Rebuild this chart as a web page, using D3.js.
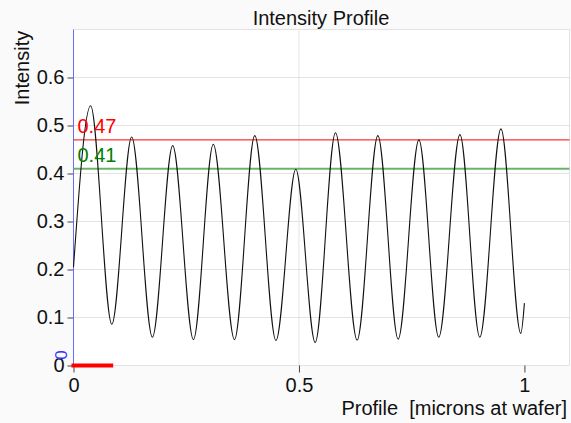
<!DOCTYPE html>
<html>
<head>
<meta charset="utf-8">
<script src="https://cdn.jsdelivr.net/npm/d3@7"></script>
<style>
  body { margin: 0; background: #fafafa; }
  text { font-family: "Liberation Sans", Arial, sans-serif; }
</style>
</head>
<body>
<div id="chart"></div>
<script>
// profile (peaks and troughs)
const profileX = [0, 0.038, 0.085, 0.129, 0.175, 0.22, 0.266, 0.31, 0.357, 0.402, 0.449,
    0.493, 0.536, 0.581, 0.629, 0.675, 0.72, 0.766, 0.81, 0.857, 0.901, 0.948, 0.992, 1.0];
const profileY = [0.205, 0.541, 0.086, 0.476, 0.059, 0.458, 0.054, 0.461, 0.054, 0.479, 0.052,
    0.409, 0.048, 0.485, 0.053, 0.479, 0.055, 0.47, 0.059, 0.481, 0.059, 0.493, 0.067, 0.13];

const yTicks = [0, 0.1, 0.2, 0.3, 0.4, 0.5, 0.6];
const yTickLabels = ["0", "0.1", "0.2", "0.3", "0.4", "0.5", "0.6"];
const yGrid = [0, 0.1, 0.2, 0.3, 0.4, 0.5, 0.6, 0.7];
const xTicks = [0, 0.5, 1];
const xTickLabels = ["0", "0.5", "1"];
const xGrid = [0.5, 1.1];

const levelValues = [0.47, 0.41];
const levelLabels = ["0.47", "0.41"];
const markerRange = [0, 0.088];

const W = 571, H = 423;
const colors = { red: "#ff0000", green: "#6ab46a", greenText: "#008000", blue: "#6b6bff" };
const fs = "20px";

let svg = d3.select("#chart").append("svg")
    .attr("width", W)
    .attr("height", H);

svg.append("rect").attr("width", W).attr("height", H).attr("fill", "#fafafa");

let x = d3.scaleLinear().domain([0, 1.1]).range([73.5, 569.5]);
let y = d3.scaleLinear().domain([0, 0.7]).range([365.5, 29.5]);

svg.append("rect")
    .attr("x", x(0)).attr("y", y(0.7))
    .attr("width", x(1.1) - x(0)).attr("height", y(0) - y(0.7))
    .attr("fill", "#ffffff");

// grid
svg.selectAll(".hgrid").data(yGrid).enter().append("line")
    .attr("x1", x(0)).attr("x2", x(1.1))
    .attr("y1", d => y(d)).attr("y2", d => y(d))
    .attr("stroke", "#e3e3e3");

svg.selectAll(".vgrid").data(xGrid).enter().append("line")
    .attr("x1", d => x(d)).attr("x2", d => x(d))
    .attr("y1", y(0)).attr("y2", y(0.7))
    .attr("stroke", "#e3e3e3");

// axes
let yAxis = svg.append("g")
    .attr("transform", "translate(" + x(0) + ",0)")
    .call(d3.axisLeft(y).tickValues(yTicks).tickSize(6).tickPadding(3)
        .tickFormat((d, i) => yTickLabels[i]));
yAxis.select(".domain").remove();
yAxis.selectAll(".tick line").attr("stroke", "#444");
yAxis.selectAll(".tick text")
    .attr("fill", "#111")
    .style("font-size", fs)
    .style("font-family", "Liberation Sans, Arial, sans-serif");

let xAxis = svg.append("g")
    .attr("transform", "translate(0," + y(0) + ")")
    .call(d3.axisBottom(x).tickValues(xTicks).tickSize(7).tickPadding(5)
        .tickFormat((d, i) => xTickLabels[i]));
xAxis.select(".domain").remove();
xAxis.selectAll(".tick line").attr("stroke", "#444");
xAxis.selectAll(".tick text")
    .attr("fill", "#111")
    .style("font-size", fs)
    .style("font-family", "Liberation Sans, Arial, sans-serif");

// blue y axis line
svg.append("line")
    .attr("x1", x(0)).attr("x2", x(0))
    .attr("y1", y(0.7)).attr("y2", y(0))
    .attr("stroke", colors.blue);

// level lines
let levelColors = [colors.red, colors.green];
let levelTextColors = [colors.red, colors.greenText];
let levelWidths = [1, 2];

svg.selectAll(".level").data(levelValues).enter().append("line")
    .attr("x1", x(0)).attr("x2", x(1.1))
    .attr("y1", d => y(d)).attr("y2", d => y(d))
    .attr("stroke", (d, i) => levelColors[i])
    .attr("stroke-width", (d, i) => levelWidths[i]);

// profile curve
let points = profileX.map((d, i) => [d, profileY[i]]);
let line = d3.line()
    .x(d => x(d[0]))
    .y(d => y(d[1]))
    .curve(d3.curveMonotoneX);

svg.append("path")
    .datum(points)
    .attr("d", line)
    .attr("fill", "none")
    .attr("stroke", "#111")
    .attr("stroke-width", 1.1);

svg.selectAll(".levelLabel").data(levelValues).enter().append("text")
    .attr("x", x(0) + 4)
    .attr("y", d => y(d) - 7)
    .attr("fill", (d, i) => levelTextColors[i])
    .style("font-size", fs)
    .text((d, i) => levelLabels[i]);

// red marker on the x axis
svg.append("line")
    .attr("x1", x(markerRange[0]) - 2).attr("x2", x(markerRange[1]))
    .attr("y1", y(0)).attr("y2", y(0))
    .attr("stroke", colors.red)
    .attr("stroke-width", 4);

// blue zero label
svg.append("text")
    .attr("transform", "translate(67,355) rotate(-90)")
    .attr("text-anchor", "middle")
    .attr("fill", "#3333ff")
    .style("font-size", "17px")
    .text("0");

// titles
svg.append("text")
    .attr("x", 321).attr("y", 25)
    .attr("text-anchor", "middle")
    .attr("fill", "#111")
    .style("font-size", fs)
    .text("Intensity Profile");

svg.append("text")
    .attr("transform", "translate(29,68) rotate(-90)")
    .attr("text-anchor", "middle")
    .attr("fill", "#111")
    .style("font-size", fs)
    .text("Intensity");

svg.append("text")
    .attr("x", 567).attr("y", 415)
    .attr("text-anchor", "end")
    .attr("fill", "#111")
    .style("font-size", fs)
    .style("white-space", "pre")
    .text("Profile  [microns at wafer]");
</script>
</body>
</html>
